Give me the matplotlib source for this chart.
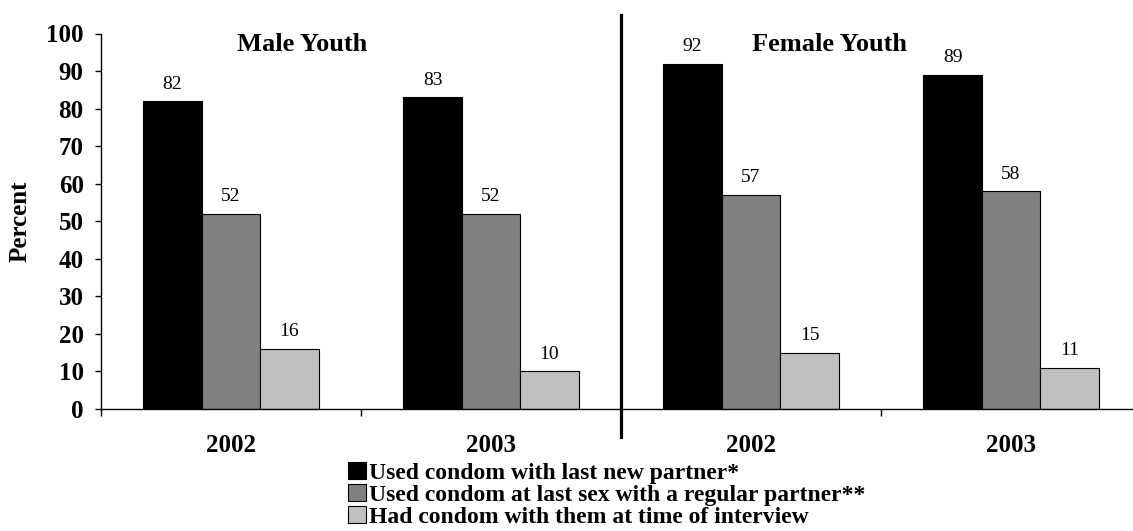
import numpy as np
import matplotlib
matplotlib.use("Agg")
import matplotlib.pyplot as plt

plt.rcParams['font.family'] = ['Liberation Serif', 'DejaVu Serif']

# data
groups = ["2002", "2003", "2002", "2003"]
new_partner = [82, 83, 92, 89]
regular_partner = [52, 52, 57, 58]
had_condom = [16, 10, 15, 11]
series_names = [
    "Used condom with last new partner*",
    "Used condom at last sex with a regular partner**",
    "Had condom with them at time of interview",
]
panel_titles = ["Male Youth", "Female Youth"]
colors = ["#000000", "#808080", "#C0C0C0"]

fig = plt.figure(figsize=(11.33, 5.31), dpi=100)
ax = fig.add_axes([101 / 1133, 1 - 409 / 531, 1040 / 1133, 375.5 / 531])

x = np.arange(len(groups))
w = 0.225
bars = []
for i, (vals, c) in enumerate(zip([new_partner, regular_partner, had_condom], colors)):
    b = ax.bar(x + (i - 1) * w, vals, width=w, color=c, edgecolor="black",
               linewidth=0.8, label=series_names[i])
    bars.append(b)
    for xi, v in zip(x + (i - 1) * w, vals):
        ax.annotate(str(v), (xi, v), xytext=(0, 9), textcoords="offset points",
                    ha="center", va="baseline", fontsize=14)

ax.set_xlim(-0.5, 3.5)
ax.set_ylim(0, 100)
ax.set_yticks(range(0, 101, 10))
ax.set_xticks(x)
ax.set_xticklabels(groups, fontsize=18, fontweight="bold")
ax.set_xticks(np.arange(-0.5, 4, 1), minor=True)
ax.tick_params(axis="x", which="major", length=0, pad=18)
ax.tick_params(axis="x", which="minor", length=5, width=1, direction="out")
ax.tick_params(axis="y", length=4.5, width=1, direction="out", pad=8)
for lbl in ax.get_yticklabels():
    lbl.set_fontsize(18)
    lbl.set_fontweight("bold")

for s in ["top", "right"]:
    ax.spines[s].set_visible(False)
ax.spines["left"].set_linewidth(1)
ax.spines["bottom"].set_linewidth(1)

ax.set_ylabel("Percent", fontsize=18, fontweight="bold")
ax.yaxis.set_label_coords(-0.067, 0.5)

# divider between male and female panels
ax.plot([1.5, 1.5], [-7.5, 105], color="black", linewidth=2.3, clip_on=False)

ax.text(0.273, 97, panel_titles[0], ha="center", va="center",
        fontsize=19, fontweight="bold")
ax.text(2.3, 97, panel_titles[1], ha="center", va="center",
        fontsize=19, fontweight="bold")

fig.legend(handles=bars, loc="upper left", bbox_to_anchor=(348 / 1133, 1 - 462 / 531),
           frameon=False, prop={"size": 17, "weight": "bold"}, borderpad=0,
           borderaxespad=0, handlelength=0.75, handleheight=0.75,
           handletextpad=0.15, labelspacing=0.0)

fig.savefig("out.png", dpi=100)
